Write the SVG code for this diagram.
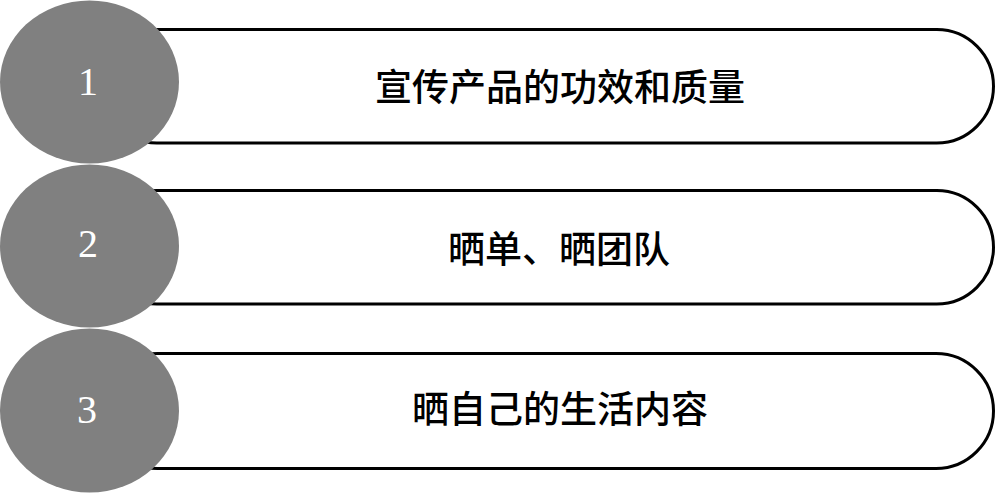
<svg xmlns="http://www.w3.org/2000/svg" width="996" height="497" viewBox="0 0 996 497">
  <style>
    .bar { fill: #ffffff; stroke: #000000; stroke-width: 3; }
    .dot { fill: #808080; }
    .num { fill: #ffffff; font-family: "Liberation Serif", serif; font-size: 40px; text-anchor: middle; }
    .lbl { fill: #000000; font-family: "Noto Sans CJK SC", "Noto Sans CJK TC", sans-serif; font-size: 37px; font-weight: 500; text-anchor: middle; }
  </style>
  <rect width="996" height="497" fill="#ffffff"/>
  <g id="connectors"></g>
  <g id="node1">
    <rect class="bar" x="100" y="29.5" width="893.5" height="113.5" rx="56.75" ry="56.75"/>
    <ellipse class="dot" cx="89.5" cy="82" rx="89.5" ry="81.5"/>
    <text class="num" x="88" y="95">1</text>
    <text class="lbl" x="560" y="101">宣传产品的功效和质量</text>
  </g>
  <g id="node2">
    <rect class="bar" x="100" y="190.5" width="893.5" height="113.5" rx="56.75" ry="56.75"/>
    <ellipse class="dot" cx="89.5" cy="246" rx="89.5" ry="81.5"/>
    <text class="num" x="88" y="257">2</text>
    <text class="lbl" x="559" y="263">晒单、晒团队</text>
  </g>
  <g id="node3">
    <rect class="bar" x="100" y="353.5" width="893.5" height="115" rx="57.5" ry="57.5"/>
    <ellipse class="dot" cx="89.5" cy="410.5" rx="89.5" ry="82"/>
    <text class="num" x="87" y="423">3</text>
    <text class="lbl" x="560" y="423">晒自己的生活内容</text>
  </g>
</svg>
